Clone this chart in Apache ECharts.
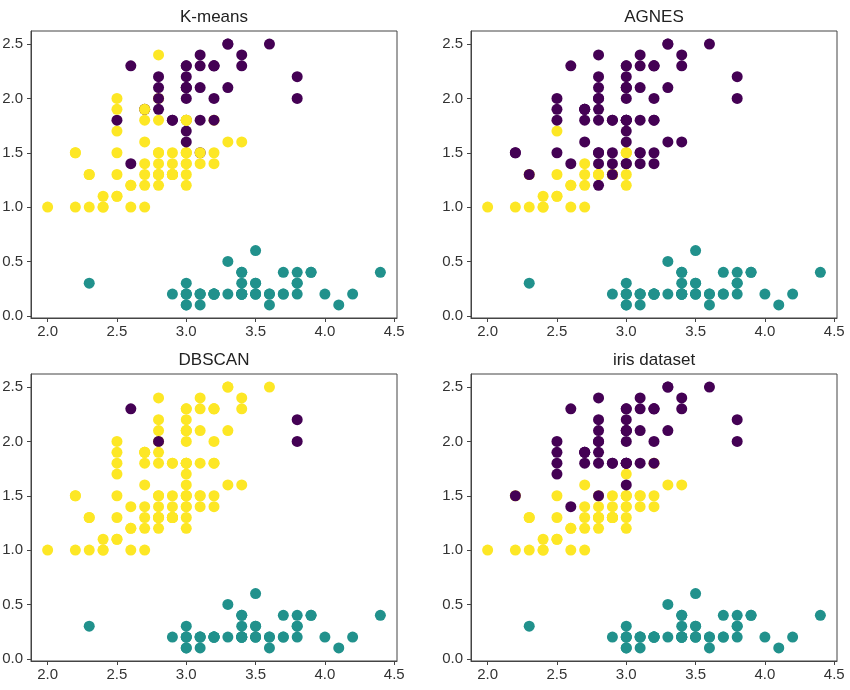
<!DOCTYPE html>
<html><head><meta charset="utf-8">
<script src="https://cdn.jsdelivr.net/npm/echarts@6/dist/echarts.min.js"></script>
<style>html,body{margin:0;padding:0;background:#fff}#c{width:850px;height:690px}</style>
</head><body><div id="c"></div>
<script>
// Iris data: sepal width (x) and petal width (y), samples 1..150
const sepalWidth = [
 3.5,3.0,3.2,3.1,3.6,3.9,3.4,3.4,2.9,3.1, 3.7,3.4,3.0,3.0,4.0,4.4,3.9,3.5,3.8,3.8,
 3.4,3.7,3.6,3.3,3.4,3.0,3.4,3.5,3.4,3.2, 3.1,3.4,4.1,4.2,3.1,3.2,3.5,3.6,3.0,3.4,
 3.5,2.3,3.2,3.5,3.8,3.0,3.8,3.2,3.7,3.3,
 3.2,3.2,3.1,2.3,2.8,2.8,3.3,2.4,2.9,2.7, 2.0,3.0,2.2,2.9,2.9,3.1,3.0,2.7,2.2,2.5,
 3.2,2.8,2.5,2.8,2.9,3.0,2.8,3.0,2.9,2.6, 2.4,2.4,2.7,2.7,3.0,3.4,3.1,2.3,3.0,2.5,
 2.6,3.0,2.6,2.3,2.7,3.0,2.9,2.9,2.5,2.8,
 3.3,2.7,3.0,2.9,3.0,3.0,2.5,2.9,2.5,3.6, 3.2,2.7,3.0,2.5,2.8,3.2,3.0,3.8,2.6,2.2,
 3.2,2.8,2.8,2.7,3.3,3.2,2.8,3.0,2.8,3.0, 2.8,3.8,2.8,2.8,2.6,3.0,3.4,3.1,3.0,3.1,
 3.1,3.1,2.7,3.2,3.3,3.0,2.5,3.0,3.4,3.0
];
const petalWidth = [
 0.2,0.2,0.2,0.2,0.2,0.4,0.3,0.2,0.2,0.1, 0.2,0.2,0.1,0.1,0.2,0.4,0.4,0.3,0.3,0.3,
 0.2,0.4,0.2,0.5,0.2,0.2,0.4,0.2,0.2,0.2, 0.2,0.4,0.1,0.2,0.2,0.2,0.2,0.1,0.2,0.2,
 0.3,0.3,0.2,0.6,0.4,0.3,0.2,0.2,0.2,0.2,
 1.4,1.5,1.5,1.3,1.5,1.3,1.6,1.0,1.3,1.4, 1.0,1.5,1.0,1.4,1.3,1.4,1.5,1.0,1.5,1.1,
 1.8,1.3,1.5,1.2,1.3,1.4,1.4,1.7,1.5,1.0, 1.1,1.0,1.2,1.6,1.5,1.6,1.5,1.3,1.3,1.3,
 1.2,1.4,1.2,1.0,1.3,1.2,1.3,1.3,1.1,1.3,
 2.5,1.9,2.1,1.8,2.2,2.1,1.7,1.8,1.8,2.5, 2.0,1.9,2.1,2.0,2.4,2.3,1.8,2.2,2.3,1.5,
 2.3,2.0,2.0,1.8,2.1,1.8,1.8,1.8,2.1,1.6, 1.9,2.0,2.2,1.5,1.4,2.3,2.4,1.8,1.8,2.1,
 2.4,2.3,1.9,2.3,2.5,2.3,1.9,2.0,2.3,1.8
];
// labels: 0 = purple, 1 = teal, 2 = yellow
const kmeansLabels = [
 1,1,1,1,1,1,1,1,1,1, 1,1,1,1,1,1,1,1,1,1, 1,1,1,1,1,1,1,1,1,1, 1,1,1,1,1,1,1,1,1,1, 1,1,1,1,1,1,1,1,1,1,
 2,2,0,2,2,2,2,2,2,2, 2,2,2,2,2,2,2,2,2,2, 2,2,2,2,2,2,2,0,2,2, 2,2,2,2,2,2,2,2,2,2, 2,2,2,2,2,2,2,2,2,2,
 0,2,0,0,0,0,2,0,0,0, 0,0,0,2,2,0,0,0,0,2, 0,2,0,2,0,0,2,2,0,0, 0,0,0,2,0,0,0,0,2,0, 0,0,2,0,0,0,2,0,0,2
];
const agnesLabels = [
 1,1,1,1,1,1,1,1,1,1, 1,1,1,1,1,1,1,1,1,1, 1,1,1,1,1,1,1,1,1,1, 1,1,1,1,1,1,1,1,1,1, 1,1,1,1,1,1,1,1,1,1,
 0,0,0,2,0,2,0,2,2,2, 2,2,2,0,2,0,2,2,0,2, 0,2,0,0,2,0,0,0,0,2, 2,2,2,0,2,0,0,0,2,2, 2,0,2,2,2,2,2,0,2,2,
 0,0,0,0,0,0,2,0,0,0, 0,0,0,0,0,0,0,0,0,0, 0,0,0,0,0,0,0,0,0,0, 0,0,0,0,0,0,0,0,0,0, 0,0,0,0,0,0,0,0,0,0
];
const dbscanLabels = [
 1,1,1,1,1,1,1,1,1,1, 1,1,1,1,1,1,1,1,1,1, 1,1,1,1,1,1,1,1,1,1, 1,1,1,1,1,1,1,1,1,1, 1,1,1,1,1,1,1,1,1,1,
 2,2,2,2,2,2,2,2,2,2, 2,2,2,2,2,2,2,2,2,2, 2,2,2,2,2,2,2,2,2,2, 2,2,2,2,2,2,2,2,2,2, 2,2,2,2,2,2,2,2,2,2,
 2,2,2,2,2,2,2,2,2,2, 2,2,2,2,2,2,2,0,0,2, 2,2,0,2,2,2,2,2,2,2, 2,0,2,2,2,2,2,2,2,2, 2,2,2,2,2,2,2,2,2,2
];
const irisLabels = [
 1,1,1,1,1,1,1,1,1,1, 1,1,1,1,1,1,1,1,1,1, 1,1,1,1,1,1,1,1,1,1, 1,1,1,1,1,1,1,1,1,1, 1,1,1,1,1,1,1,1,1,1,
 2,2,2,2,2,2,2,2,2,2, 2,2,2,2,2,2,2,2,2,2, 2,2,2,2,2,2,2,2,2,2, 2,2,2,2,2,2,2,2,2,2, 2,2,2,2,2,2,2,2,2,2,
 0,0,0,0,0,0,0,0,0,0, 0,0,0,0,0,0,0,0,0,0, 0,0,0,0,0,0,0,0,0,0, 0,0,0,0,0,0,0,0,0,0, 0,0,0,0,0,0,0,0,0,0
];
const titles = ['K-means', 'AGNES', 'DBSCAN', 'iris dataset'];
const xTicks = [2.0, 2.5, 3.0, 3.5, 4.0, 4.5];
const yTicks = [0.0, 0.5, 1.0, 1.5, 2.0, 2.5];

const palette = ['#440154', '#21918c', '#fde725'];
const allLabels = [kmeansLabels, agnesLabels, dbscanLabels, irisLabels];
const FONT = '"Liberation Sans", Arial, Helvetica, sans-serif';
const grids = [
  {left: 31, top: 31, width: 366, height: 287},
  {left: 471, top: 31, width: 366, height: 287},
  {left: 31, top: 374, width: 366, height: 287},
  {left: 471, top: 374, width: 366, height: 287}
];
const axisColor = '#444';
const option = {
  animation: false,
  backgroundColor: '#fff',
  title: grids.map((g, i) => ({
    text: titles[i], left: g.left + g.width / 2, top: g.top - 22, textAlign: 'center', padding: 0,
    textStyle: {fontFamily: FONT, fontSize: 17, fontWeight: 'normal', color: '#222'}
  })),
  grid: grids.map(g => Object.assign({show: true, borderColor: axisColor, borderWidth: 1, containLabel: false, outerBoundsMode: 'none'}, g)),
  xAxis: grids.map((g, i) => ({
    gridIndex: i, type: 'value', min: 1.88, max: 4.52,
    splitLine: {show: false},
    axisLine: {show: true, onZero: false, lineStyle: {color: axisColor, width: 1}},
    axisTick: {show: true, length: 4, customValues: xTicks, lineStyle: {color: axisColor}},
    axisLabel: {customValues: xTicks, formatter: v => Number(v).toFixed(1), fontFamily: FONT, fontSize: 15, color: '#333', margin: 6}
  })),
  yAxis: grids.map((g, i) => ({
    gridIndex: i, type: 'value', min: -0.02, max: 2.62,
    splitLine: {show: false},
    axisLine: {show: true, onZero: false, lineStyle: {color: axisColor, width: 1}},
    axisTick: {show: true, length: 4, customValues: yTicks, lineStyle: {color: axisColor}},
    axisLabel: {customValues: yTicks, formatter: v => Number(v).toFixed(1), fontFamily: FONT, fontSize: 15, color: '#333', margin: 8}
  })),
  series: allLabels.map((labels, i) => ({
    type: 'scatter', xAxisIndex: i, yAxisIndex: i,
    symbol: 'circle', symbolSize: 11,
    data: sepalWidth.map((x, k) => [x, petalWidth[k], labels[k]]),
    itemStyle: {opacity: 1, color: p => palette[p.data[2]]},
    emphasis: {disabled: true},
    silent: true
  }))
};
const chart = echarts.init(document.getElementById('c'), null, {renderer: 'canvas'});
chart.setOption(option);
</script>
</body></html>
